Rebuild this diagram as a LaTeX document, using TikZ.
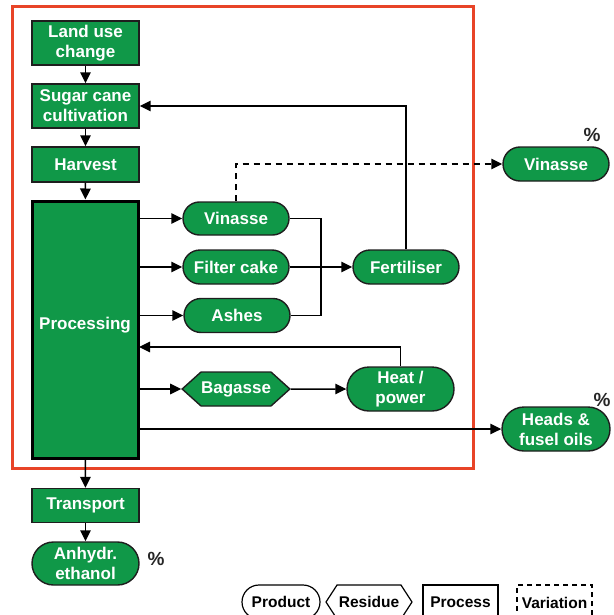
\documentclass[tikz,border=0pt]{standalone}
\usepackage{fontspec}
\setmainfont{Liberation Sans}
\usetikzlibrary{arrows.meta,shapes.symbols}
\definecolor{leafgreen}{RGB}{16,152,72}
\definecolor{frame}{RGB}{232,68,40}
\definecolor{edge}{RGB}{30,30,30}
\begin{document}
\begin{tikzpicture}[x=1pt,y=-1pt,
  every node/.style={font=\bfseries\fontsize{17}{20}\selectfont, align=center, inner sep=0pt},
  procbox/.style={draw=edge, line width=1.4pt, fill=leafgreen, text=white, minimum width=107pt, minimum height=#1},
  procbox/.default=34pt,
  prodbox/.style={draw=edge, line width=1.4pt, fill=leafgreen, text=white, rounded corners=#1, minimum width=106pt, minimum height=2*#1},
  prodbox/.default=17pt,
  residuebox/.style={shape=signal, signal to=west and east, signal pointer angle=84, draw=edge, line width=1.4pt, fill=leafgreen, text=white, minimum width=106pt, minimum height=34pt},
  keybox/.style={draw=black, line width=1.2pt, fill=white, text=black, font=\bfseries\fontsize{15.5}{18}\selectfont, minimum height=34pt},
  pct/.style={text=black!85, font=\bfseries\fontsize{19}{21}\selectfont},
  flow/.style={draw=black, line width=1.5pt, -{Triangle[length=11pt,width=10.5pt]}},
  link/.style={draw=black, line width=1.5pt},
]
\useasboundingbox (0,0) rectangle (613,615);

% system boundary
\draw[frame, line width=3pt] (12,7) rectangle (473,468);

% main chain of processes
\node[procbox=44pt] (land)    at (85.5,43)    {Land use\\change};
\node[procbox=44pt] (sugar)   at (85.5,106)   {Sugar cane\\cultivation};
\node[procbox=35pt] (harvest) at (85.5,164.5) {Harvest};
\node[draw=black, line width=3pt, fill=leafgreen, text=white, minimum width=106pt, minimum height=257pt, text depth=12pt] (proc) at (85,329.5) {Processing};
\node[procbox=34pt] (trans)   at (85.5,505.5) {Transport};
\node[prodbox=21.5pt, minimum width=107pt] (eth) at (85.5,563.5) {Anhydr.\\ethanol};

% products and residues of processing
\node[prodbox=16.5pt] (vin)    at (236,218.5) {Vinasse};
\node[prodbox]        (filter) at (236,267)   {Filter cake};
\node[prodbox]        (ash)    at (237,315.5) {Ashes};
\node[prodbox]        (fert)   at (406,267)   {Fertiliser};
\node[prodbox]        (vinout) at (556,164)   {Vinasse};
\node[residuebox]     (bag)    at (236,389)   {Bagasse};
\node[prodbox=22pt, minimum width=107pt] (heat)  at (400.5,389) {Heat /\\power};
\node[prodbox=22pt, minimum width=108pt] (heads) at (556,429)   {Heads \&\\fusel oils};

% allocation marks
\node[pct] (p1) at (592,135) {\%};
\node[pct] (p2) at (602,400) {\%};
\node[pct] (p3) at (156,559) {\%};

% connectors
\coordinate (fb)  at (139,347);
\coordinate (mix) at (321,218.5);
\draw[flow] (land) -- (sugar);
\draw[flow] (sugar) -- (harvest);
\draw[flow] (harvest) -- (proc);
\draw[flow] (proc) -- (trans);
\draw[flow] (trans) -- (eth);
\draw[flow] (vin.west -| proc.east) -- (vin.west);
\draw[flow] (filter.west -| proc.east) -- (filter.west);
\draw[flow] (ash.west -| proc.east) -- (ash.west);
\draw[flow] (bag.west -| proc.east) -- (bag.west);
\draw[flow] (heads.west -| proc.east) -- (heads.west);
\draw[link] (vin.east) -- (mix) |- (ash.east);
\draw[flow] (filter) -- (fert);
\draw[flow] (fert.north) |- (sugar.east);
\draw[flow] (bag) -- (heat);
\draw[flow] (heat.north) |- (fb);
\draw[flow, dashed, dash pattern=on 6pt off 5pt] (vin.north) |- (vinout.west);

% key
\node[keybox, rounded corners=17pt, minimum width=78pt] (kprod) at (281,602) {Product};
\node[keybox, shape=signal, signal to=west and east, signal pointer angle=114, minimum width=86pt] (kres) at (369,602) {Residue};
\node[keybox, minimum width=75pt] (kproc) at (460.5,602) {Process};
\node[keybox, dashed, dash pattern=on 5pt off 4pt, minimum width=75pt, minimum height=36pt] (kvar) at (554.5,603) {Variation};
\end{tikzpicture}
\end{document}
